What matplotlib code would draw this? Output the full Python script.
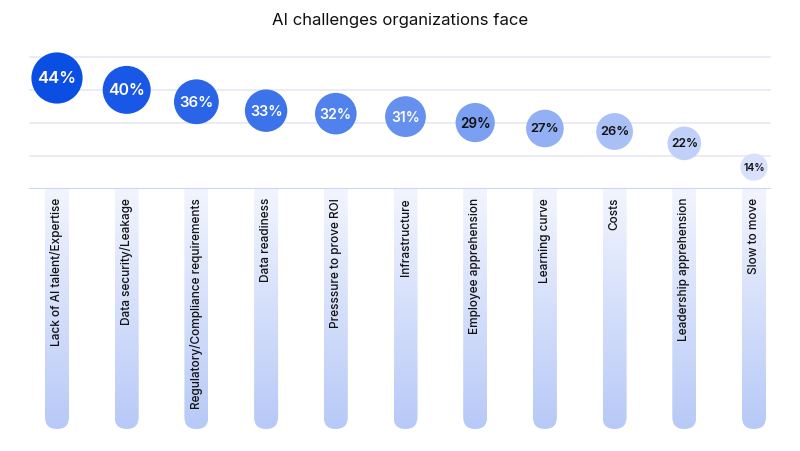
import matplotlib
matplotlib.use("Agg")
import matplotlib.pyplot as plt
import numpy as np
from matplotlib.patches import FancyBboxPatch
from matplotlib.colors import LinearSegmentedColormap, to_rgb

categories = ["Lack of AI talent/Expertise", "Data security/Leakage", "Regulatory/Compliance requirements",
              "Data readiness", "Presssure to prove ROI", "Infrastructure", "Employee apprehension",
              "Learning curve", "Costs", "Leadership apprehension", "Slow to move"]
values = [44, 40, 36, 33, 32, 31, 29, 27, 26, 22, 14]
labels = [f"{v}%" for v in values]

W, H = 800, 452
fig = plt.figure(figsize=(8, 4.52), dpi=100)
fig.patch.set_facecolor("white")
fig.text(0.5, 1 - 20 / H, "AI challenges organizations face", ha="center", va="center",
         fontsize=12, family="Inter", color="#111111")

xl, xr = 22.15, 788.85
n = len(categories)

ax = fig.add_axes([xl / W, 1 - 190 / H, (xr - xl) / W, 140 / H])
ax.set_xlim(-0.5, n - 0.5)
k = 2.97
def px2v(p):
    return 44 - (p - 79) / k
ax.set_ylim(px2v(190), px2v(50))
ax.axis("off")
for p in [58, 91, 124, 157]:
    ax.axhline(px2v(p), xmin=8 / (xr - xl), xmax=(770 - xl) / (xr - xl), color="#e6e8f5", lw=1.2, zorder=0)
ax.axhline(px2v(190), xmin=8 / (xr - xl), xmax=(770 - xl) / (xr - xl), color="#c9d6fb", lw=1.5, zorder=0)

c0, c1 = np.array(to_rgb("#0a4ee4")), np.array(to_rgb("#d7e1fb"))
vmin, vmax = min(values), max(values)
for i, v in enumerate(values):
    t = (i / (n - 1)) ** 1.15
    col = c0 * (1 - t) + c1 * t
    d = 16 + 0.8 * v
    ax.scatter(i, v, s=(d * 0.72) ** 2, color=col, edgecolors="none", zorder=3, clip_on=False)
    fs = 7.5 + 4.5 * (v - vmin) / (vmax - vmin)
    tc = "white" if i < 6 else "#111111"
    ax.text(i, v, labels[i], ha="center", va="center", fontsize=fs, family="Inter",
            color=tc, fontweight="semibold", zorder=4)

bx = fig.add_axes([xl / W, 1 - 431 / H, (xr - xl) / W, 241 / H])
bx.set_xlim(-0.5, n - 0.5)
bx.set_ylim(0, 241)
bx.axis("off")
unit = (xr - xl) / n
cmap = LinearSegmentedColormap.from_list("g", ["#b7c9f7", "#f2f5fe"])
grad = np.linspace(0, 1, 256).reshape(-1, 1)
hw = 12 / unit
for i in range(n):
    patch = FancyBboxPatch((i - hw, 1), 2 * hw, 260, boxstyle=f"round,pad=0,rounding_size={hw}",
                           mutation_aspect=unit, transform=bx.transData, facecolor="none", edgecolor="none")
    bx.add_patch(patch)
    im = bx.imshow(grad, cmap=cmap, extent=(i - hw, i + hw, 1, 241), origin="lower",
                   aspect="auto", zorder=1)
    im.set_clip_path(patch)
    bx.text(i, 233, categories[i], rotation=90, ha="center", va="top", fontsize=8.5,
            family="Inter", color="#111111", fontweight="medium", zorder=3)

fig.savefig("out.png", dpi=100)
